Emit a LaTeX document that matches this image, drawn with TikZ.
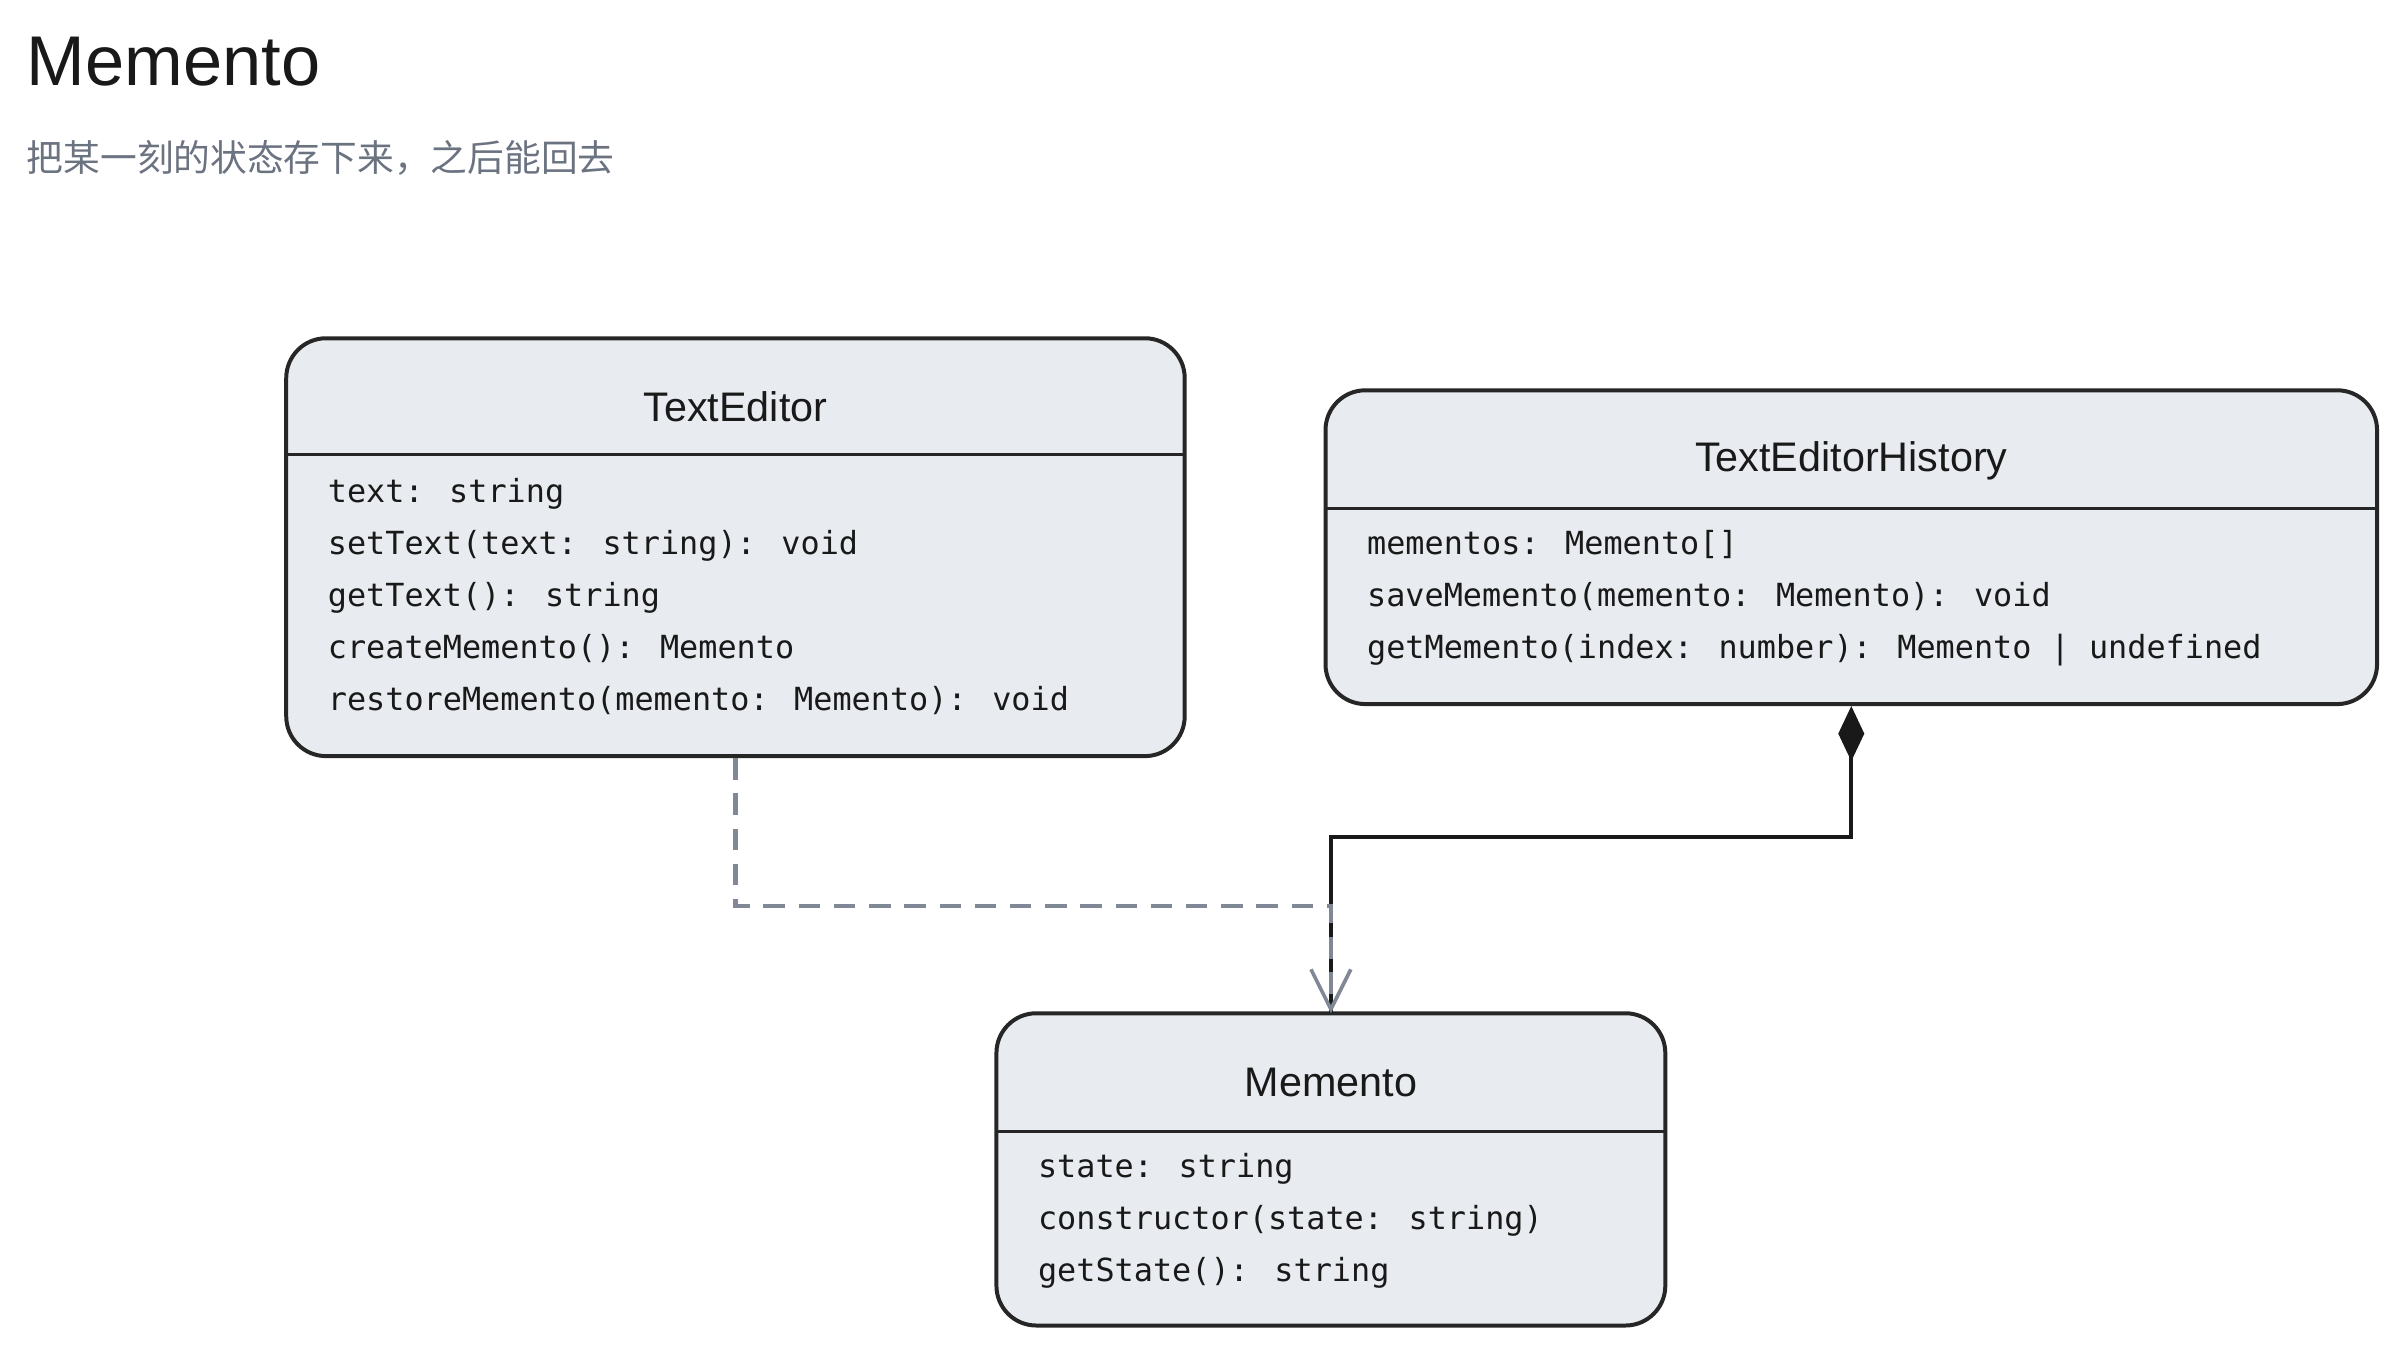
\documentclass[tikz,border=0pt]{standalone}
\usepackage{fontspec}
\setmainfont{Liberation Sans}
\newfontfamily\codefont{DejaVu Sans Mono}
\newfontfamily\cjk{Noto Sans CJK SC}
\usetikzlibrary{arrows.meta}
\definecolor{boxfill}{HTML}{E8EBEF}
\definecolor{subgray}{HTML}{6B7280}
\definecolor{depgray}{HTML}{7F8894}
\tikzset{
  classbox/.style={draw=black!85, line width=2.6pt, fill=boxfill, rounded corners=26pt, inner sep=0pt},
  classname/.style={font=\fontsize{27}{30}\selectfont, text=black!90},
  members/.style={font=\codefont\fontsize{20.8}{34}\selectfont, align=left, anchor=north west, inner sep=0pt, text=black!90},
}
\begin{document}
\begin{tikzpicture}[x=1pt,y=-1pt]
    \useasboundingbox (0,0) rectangle (1568,882);

    % Title
    \node[anchor=west, font=\fontsize{46}{50}\selectfont, text=black!90] (Title) at (14,40) {Memento};
    \node[anchor=west, font=\cjk\fontsize{24}{28}\selectfont, text=subgray] (Sub) at (14,103) {把某一刻的状态存下来，之后能回去};

    % Classes
    \node[classbox, minimum width=587pt, minimum height=273pt] (Editor) at (480.5,357.5) {};
    \node[classbox, minimum width=687pt, minimum height=205pt] (History) at (1209.5,357.5) {};
    \node[classbox, minimum width=437pt, minimum height=204pt] (Memento) at (869.5,764) {};

    \draw[line width=2pt, black!85] (187,297) -- (774,297);
    \draw[line width=2pt, black!85] (866,332) -- (1553,332);
    \draw[line width=2pt, black!85] (651,739) -- (1088,739);

    \node[classname] (EditorName) at (480.5,266) {TextEditor};
    \node[classname] (HistoryName) at (1209.5,301) {TextEditorHistory};
    \node[classname] (MementoName) at (869.5,707) {Memento};

    \node[members] (EditorBody) at (214,312) {text: string\\setText(text: string): void\\getText(): string\\createMemento(): Memento\\restoreMemento(memento: Memento): void};
    \node[members] (HistoryBody) at (893,346) {mementos: Memento[]\\saveMemento(memento: Memento): void\\getMemento(index: number): Memento | undefined};
    \node[members] (MementoBody) at (678,753) {state: string\\constructor(state: string)\\getState(): string};

    % Connectors
    \coordinate (Mtop) at (869.5,662);
    \draw[line width=2.4pt, black!90, {Diamond[length=36pt, width=17pt]}-] (History.south) -- (1209.5,547) -- (869.5,547) -- (Mtop);
    \draw[line width=3pt, depgray, dash pattern=on 14pt off 9pt, -{Straight Barb[length=26pt, width=26pt, line width=2.4pt]}] (Editor.south) -- (480.5,592) -- (869.5,592) -- (Mtop);
\end{tikzpicture}
\end{document}
